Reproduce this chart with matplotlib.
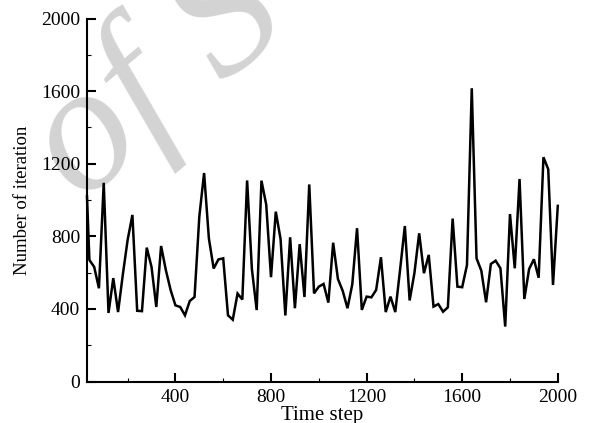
import matplotlib
matplotlib.use("Agg")
import matplotlib.pyplot as plt
from matplotlib.ticker import MultipleLocator

# ---- data ----
time_steps = [30] + list(range(40, 2001, 20))
iterations = [
    1020, 670, 632, 514, 1095, 378, 570, 383, 590, 780,
    918, 390, 388, 738, 632, 411, 747, 614, 504, 420,
    411, 365, 444, 466, 909, 1149, 789, 623, 673, 679,
    365, 341, 485, 452, 1108, 620, 394, 1107, 975, 575,
    936, 785, 364, 795, 404, 757, 466, 1086, 486, 523,
    538, 435, 765, 565, 500, 404, 535, 845, 395, 468,
    464, 505, 685, 383, 468, 383, 615, 857, 447, 597,
    817, 597, 698, 413, 427, 385, 409, 898, 523, 520,
    642, 1616, 679, 611, 437, 648, 666, 624, 303, 923,
    624, 1116, 455, 620, 674, 572, 1236, 1170, 532, 968,
]
assert len(time_steps) == len(iterations)

x_label = "Time step"
y_label = "Number of iteration"
watermark = "of S"

plt.rcParams['font.family'] = ['Liberation Serif', 'DejaVu Serif']

fig = plt.figure(figsize=(5.91, 4.23), dpi=100)
ax = fig.add_axes([0.1472, 0.0979, 0.7966, 0.8583])

# watermark in background
fig.text(0.137, 0.518, watermark, fontsize=130, style='italic', color='#d3d3d3',
         rotation=40, rotation_mode='anchor', ha='left', va='baseline', zorder=-1)
ax.set_facecolor('none')

ax.plot(time_steps, iterations, color='black', lw=1.8, solid_joinstyle='miter', clip_on=False)

ax.set_xlim(30, 2000)
ax.set_ylim(0, 2000)
ax.xaxis.set_major_locator(MultipleLocator(400))
ax.xaxis.set_minor_locator(MultipleLocator(200))
ax.yaxis.set_major_locator(MultipleLocator(400))
ax.yaxis.set_minor_locator(MultipleLocator(200))

for s in ['top', 'right']:
    ax.spines[s].set_visible(False)
for s in ['left', 'bottom']:
    ax.spines[s].set_linewidth(1.5)

ax.tick_params(which='major', direction='in', length=6.5, width=1.5, labelsize=14, pad=5)
ax.tick_params(which='minor', direction='in', length=3, width=0.8)

ax.set_xlabel(x_label, fontsize=15, labelpad=0)
ax.set_ylabel(y_label, fontsize=13.5, labelpad=7)

fig.savefig("out.png", dpi=100)
